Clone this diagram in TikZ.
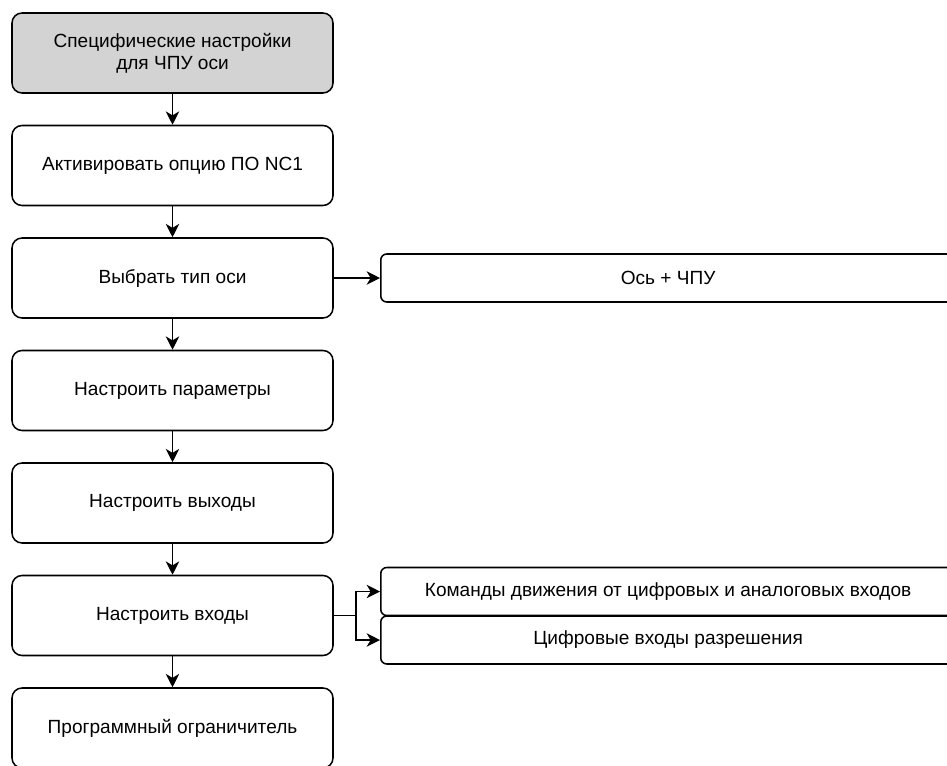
\documentclass[tikz,border=0pt]{standalone}
\usepackage{fontspec}
\setmainfont{Liberation Sans}
\usetikzlibrary{arrows.meta,positioning}
\definecolor{ink}{RGB}{0,0,0}
\definecolor{shade}{RGB}{211,211,211}
\tikzset{
  >={Stealth[length=10pt,width=10pt,inset=3pt]},
  stage/.style={draw=ink,fill=#1,rounded corners=7.5pt,line width=1.15pt,
    minimum width=240.75pt,minimum height=60pt,align=center,inner sep=0pt,
    font=\fontsize{14.3}{16.5}\selectfont},
  stage/.default=white,
  option/.style={draw=ink,fill=white,rounded corners=4.5pt,line width=1.15pt,
    minimum width=431pt,minimum height=36pt,anchor=west,inner sep=0pt,
    font=\fontsize{14.3}{16.5}\selectfont},
  flow/.style={->,line width=1.15pt,draw=ink},
  link/.style={line width=1.15pt,draw=ink},
}

\begin{document}
\begin{tikzpicture}[x=0.75pt,y=-0.75pt]
    \useasboundingbox (0,0) rectangle (947,765);
    \node[stage=shade] (s1) at (172.5,53) {Специфические настройки\\для ЧПУ оси};
    \node[stage] (s2) at (172.5,165.5) {Активировать опцию ПО NC1};
    \node[stage] (s3) at (172.5,278) {Выбрать тип оси};
    \node[stage] (s4) at (172.5,390.5) {Настроить параметры};
    \node[stage] (s5) at (172.5,503) {Настроить выходы};
    \node[stage] (s6) at (172.5,615.5) {Настроить входы};
    \node[stage] (s7) at (172.5,728) {Программный ограничитель};
    \foreach \a/\b in {s1/s2,s2/s3,s3/s4,s4/s5,s5/s6,s6/s7} \draw[flow] (\a) -- (\b);
    \node[option] (axis) at (380,278) {Ось + ЧПУ};
    \node[option] (cmd) at (380,591.5) {Команды движения от цифровых и аналоговых входов};
    \node[option] (enable) at (380,640) {Цифровые входы разрешения};
    \draw[flow] (s3) -- (axis);
    \coordinate (split) at (356,615.5);
    \draw[link] (s6.east) -- (split);
    \foreach \n in {cmd,enable} \draw[flow] (split) |- (\n.west);
  \end{tikzpicture}
\end{document}
